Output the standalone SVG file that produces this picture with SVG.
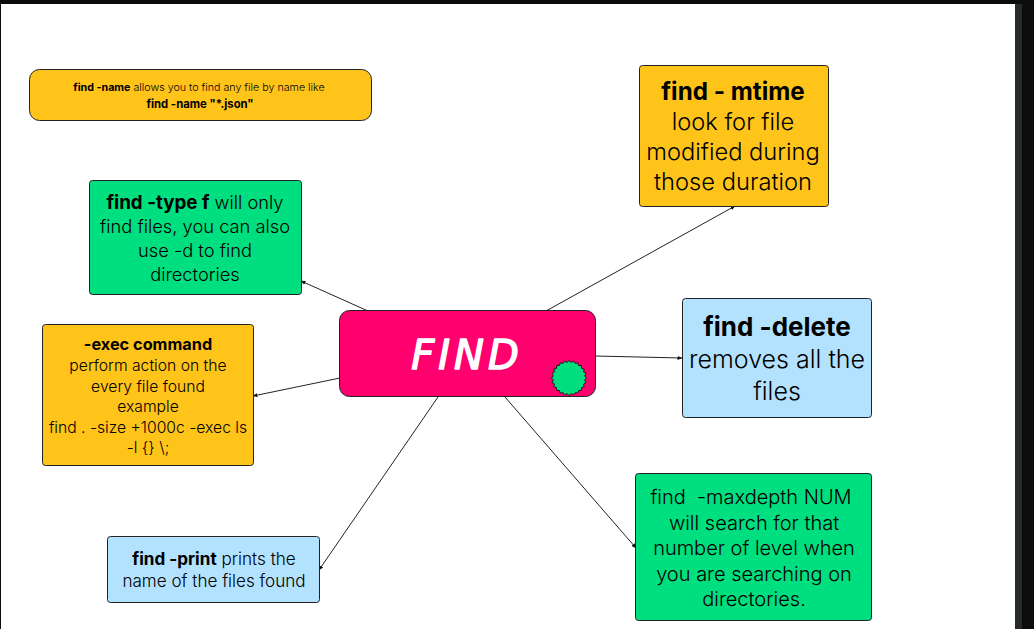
<svg xmlns="http://www.w3.org/2000/svg" width="1034" height="629" viewBox="0 0 1034 629">
<style>
text{font-family:"Inter","Liberation Sans",sans-serif;font-weight:300;fill:#000;text-anchor:middle;white-space:pre}
.b{font-weight:700;fill:#000}
.box{stroke:#222;stroke-width:1}
.y{fill:#ffc41a}.g{fill:#00df7f}.l{fill:#b3e2ff}
.c{stroke:#222;stroke-width:1;fill:none;marker-end:url(#a)}
.f24{font-size:23.700px}.f20{font-size:20px}.f18{font-size:18.300px}.f16{font-size:15.700px}.f10{font-size:10.700px}
</style>
<defs><marker id="a" markerUnits="userSpaceOnUse" markerWidth="5" markerHeight="5" refX="4.500" refY="2.500" orient="auto"><path d="M0 0.500L5 2.500L0 4.500z" fill="#111"/></marker></defs>
<rect width="1034" height="629" fill="#0b0c0c"/>
<rect x="1" y="4" width="1014" height="625" fill="#fff"/>
<rect x="1015" y="4" width="7" height="625" fill="#272b2e"/>
<g id="connectors">
<path class="c" d="M546 311L735 206"/>
<path class="c" d="M595 356L682 358"/>
<path class="c" d="M505 397L636 548"/>
<path class="c" d="M438 397L319 570"/>
<path class="c" d="M340 378L253 396"/>
<path class="c" d="M368 311L301 281"/>
</g>
<g id="node-name"><rect class="box y" x="29.500" y="69.500" width="342" height="51" rx="10"/>
<text class="f10" x="199" y="91"><tspan class="b">find -name</tspan> allows you to find any file by name like</text>
<text class="b" x="200" y="108" style="font-size:11.300px">find -name "*.json"</text></g>
<g id="node-mtime"><rect class="box y" x="639.500" y="65.500" width="189" height="141" rx="3"/>
<text class="b" x="733" y="100" style="font-size:24.200px">find - mtime</text>
<text class="f24" x="733" y="130">look for file</text>
<text class="f24" x="733" y="160">modified during</text>
<text class="f24" x="733" y="190">those duration</text></g>
<g id="node-type"><rect class="box g" x="89.500" y="180.500" width="212" height="114" rx="3"/>
<text class="f18" x="195" y="209"><tspan class="b" style="font-size:18.800px">find -type f</tspan> will only</text>
<text class="f18" x="195" y="233">find files, you can also</text>
<text class="f18" x="195" y="257">use -d to find</text>
<text class="f18" x="195" y="281">directories</text></g>
<g id="node-find"><rect x="339.500" y="310.500" width="256" height="86" rx="10" fill="#ff006e" stroke="#222"/>
<text x="467" y="369" style="font-family:'DejaVu Sans',sans-serif;font-size:40px;font-style:italic;font-weight:400;fill:#fff;stroke:#fff;stroke-width:1.400px;stroke-linejoin:round;letter-spacing:4px">FIND</text></g>
<g id="node-delete"><rect class="box l" x="682.500" y="298.500" width="189" height="119" rx="3"/>
<text class="b" x="777" y="336" style="font-size:26px">find -delete</text>
<text x="777" y="368" style="font-size:25px">removes all the</text>
<text x="777" y="400" style="font-size:25px">files</text></g>
<g id="node-exec"><rect class="box y" x="42.500" y="324.500" width="211" height="141" rx="3"/>
<text class="b" x="148" y="350" style="font-size:16.300px">-exec command</text>
<text class="f16" x="148" y="371">perform action on the</text>
<text class="f16" x="148" y="392">every file found</text>
<text class="f16" x="148" y="412">example</text>
<text class="f16" x="148" y="433">find . -size +1000c -exec ls</text>
<text class="f16" x="148" y="453">-l {} \;</text></g>
<g id="node-print"><rect class="box l" x="107.500" y="536.500" width="212" height="66" rx="3"/>
<text x="214" y="565" style="font-size:17.100px"><tspan class="b">find -print</tspan> prints the</text>
<text x="214" y="587" style="font-size:17.100px">name of the files found</text></g>
<g id="node-maxdepth"><rect class="box g" x="635.500" y="473.500" width="236" height="147" rx="3"/>
<text class="f20" x="751" y="504">find  -maxdepth NUM</text>
<text class="f20" x="754" y="530">will search for that</text>
<text class="f20" x="754" y="555">number of level when</text>
<text class="f20" x="754" y="581">you are searching on</text>
<text class="f20" x="754" y="606">directories.</text></g>
<g id="badge"><polygon transform="translate(569 378)" fill="#00df7f" stroke="#111" stroke-width="0.900" points="17.500,0 15.660,2.060 16.900,4.530 14.600,6.050 15.160,8.750 12.530,9.620 12.370,12.370 9.620,12.530 8.750,15.160 6.050,14.600 4.530,16.900 2.060,15.660 0,17.500 -2.060,15.660 -4.530,16.900 -6.050,14.600 -8.750,15.160 -9.620,12.530 -12.370,12.370 -12.530,9.620 -15.160,8.750 -14.600,6.050 -16.900,4.530 -15.660,2.060 -17.500,0 -15.660,-2.060 -16.900,-4.530 -14.600,-6.050 -15.160,-8.750 -12.530,-9.620 -12.370,-12.370 -9.620,-12.530 -8.750,-15.160 -6.050,-14.600 -4.530,-16.900 -2.060,-15.660 0,-17.500 2.060,-15.660 4.530,-16.900 6.050,-14.600 8.750,-15.160 9.620,-12.530 12.370,-12.370 12.530,-9.620 15.160,-8.750 14.600,-6.050 16.900,-4.530 15.660,-2.060"/></g>
</svg>
